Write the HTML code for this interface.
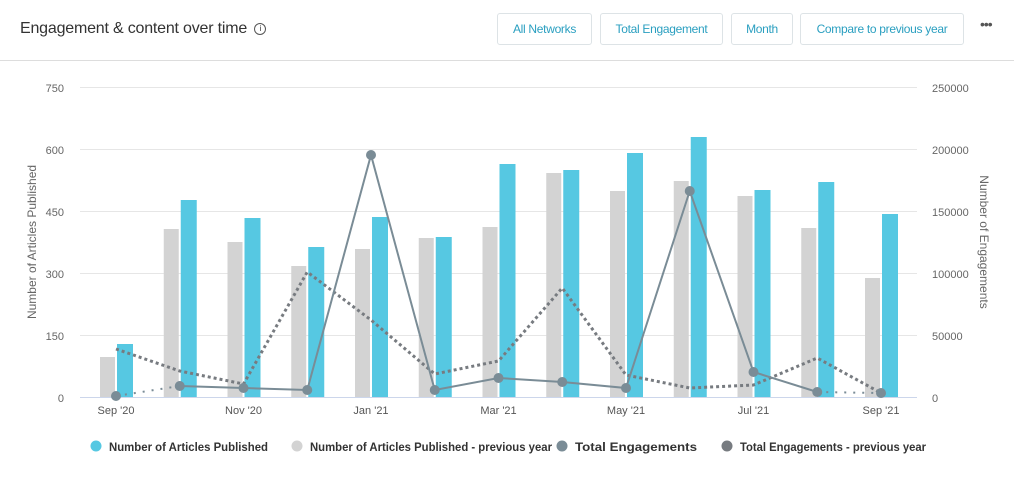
<!DOCTYPE html>
<html><head><meta charset="utf-8"><style>
body{margin:0;width:1014px;height:488px;background:#fff;font-family:"Liberation Sans",sans-serif;overflow:hidden;position:relative}
.title{position:absolute;left:20px;top:20px;font-size:16px;color:#333;letter-spacing:-0.2px}
.btn{position:absolute;top:13px;height:32px;border:1px solid #dde3e6;border-radius:3px;color:#2a9fc0;font-size:12px;line-height:31px;text-align:center;box-sizing:border-box;background:#fff;letter-spacing:-0.3px}
.sep{position:absolute;left:0;right:0;top:60px;border-top:1px solid #ddd}
</style></head><body>
<div class="title">Engagement &amp; content over time <span style="display:inline-block;width:10px;height:10px;border:1px solid #555;border-radius:50%;font-size:8px;line-height:10px;text-align:center;vertical-align:2px;margin-left:3px">i</span></div>
<div class="btn" style="left:497px;width:95px">All Networks</div>
<div class="btn" style="left:600px;width:123px">Total Engagement</div>
<div class="btn" style="left:731px;width:62px">Month</div>
<div class="btn" style="left:800px;width:164px">Compare to previous year</div>
<div style="position:absolute;left:980px;top:16px;font-size:14px;color:#555;letter-spacing:-1px">•••</div>
<div class="sep"></div>
<svg width="1014" height="488" style="position:absolute;left:0;top:0" font-family="Liberation Sans, sans-serif">
<g stroke="#e6e6e6" stroke-width="1">
<line x1="80" x2="917" y1="87.5" y2="87.5"/><line x1="80" x2="917" y1="149.5" y2="149.5"/><line x1="80" x2="917" y1="211.5" y2="211.5"/><line x1="80" x2="917" y1="273.5" y2="273.5"/><line x1="80" x2="917" y1="335.5" y2="335.5"/>
</g>
<line x1="80" x2="917" y1="397.5" y2="397.5" stroke="#ccd6eb"/>
<g font-size="11" fill="#666" text-anchor="end">
<text x="64" y="92">750</text><text x="64" y="154">600</text><text x="64" y="216">450</text><text x="64" y="278">300</text><text x="64" y="340">150</text><text x="64" y="402">0</text>
</g>
<g font-size="11" fill="#666">
<text x="932" y="92">250000</text><text x="932" y="154">200000</text><text x="932" y="216">150000</text><text x="932" y="278">100000</text><text x="932" y="340">50000</text><text x="932" y="402">0</text>
</g>
<text transform="translate(36,242) rotate(-90)" font-size="12" fill="#666" text-anchor="middle">Number of Articles Published</text>
<text transform="translate(980,242) rotate(90)" font-size="12" fill="#666" text-anchor="middle">Number of Engagements</text>
<g font-size="11" fill="#555" text-anchor="middle">
<text x="116" y="414">Sep '20</text><text x="243.5" y="414">Nov '20</text><text x="371" y="414">Jan '21</text><text x="498.5" y="414">Mar '21</text><text x="626" y="414">May '21</text><text x="753.5" y="414">Jul '21</text><text x="881" y="414">Sep '21</text>
</g>
<g fill="#d3d3d3">
<rect x="100" y="357" width="15" height="40"/><rect x="163.75" y="229" width="15" height="168"/><rect x="227.5" y="242" width="15" height="155"/><rect x="291.25" y="266" width="15" height="131"/><rect x="355" y="249" width="15" height="148"/><rect x="418.75" y="238" width="15" height="159"/><rect x="482.5" y="227" width="15" height="170"/><rect x="546.25" y="173" width="15" height="224"/><rect x="610" y="191" width="15" height="206"/><rect x="673.75" y="181" width="15" height="216"/><rect x="737.5" y="196" width="15" height="201"/><rect x="801.25" y="228" width="15" height="169"/><rect x="865" y="278" width="15" height="119"/>
</g>
<g fill="#56c8e2">
<rect x="117" y="344" width="16" height="53"/><rect x="180.75" y="200" width="16" height="197"/><rect x="244.5" y="218" width="16" height="179"/><rect x="308.25" y="247" width="16" height="150"/><rect x="372" y="217" width="16" height="180"/><rect x="435.75" y="237" width="16" height="160"/><rect x="499.5" y="164" width="16" height="233"/><rect x="563.25" y="170" width="16" height="227"/><rect x="627" y="153" width="16" height="244"/><rect x="690.75" y="137" width="16" height="260"/><rect x="754.5" y="190" width="16" height="207"/><rect x="818.25" y="182" width="16" height="215"/><rect x="882" y="214" width="16" height="183"/>
</g>
<polyline fill="none" stroke="#777b80" stroke-width="3" stroke-dasharray="3,3" points="116,349 179.75,371 243.5,384 307.25,272 371,320 434.75,374 498.5,361 562.25,288 626,375 689.75,388 753.5,385 817.25,358 881,393"/>
<polyline fill="none" stroke="#7a8c96" stroke-width="2" stroke-dasharray="2,7" points="116,396 179.75,386"/>
<polyline fill="none" stroke="#7a8c96" stroke-width="2" stroke-dasharray="2,7" points="817.25,392 881,393"/>
<polyline fill="none" stroke="#7a8c96" stroke-width="2" points="179.75,386 243.5,388 307.25,390 371,155 434.75,390 498.5,378 562.25,382 626,388 689.75,191 753.5,372 817.25,392"/>
<g fill="#7a8c96">
<circle cx="116" cy="396" r="5"/><circle cx="179.75" cy="386" r="5"/><circle cx="243.5" cy="388" r="5"/><circle cx="307.25" cy="390" r="5"/><circle cx="371" cy="155" r="5"/><circle cx="434.75" cy="390" r="5"/><circle cx="498.5" cy="378" r="5"/><circle cx="562.25" cy="382" r="5"/><circle cx="626" cy="388" r="5"/><circle cx="689.75" cy="191" r="5"/><circle cx="753.5" cy="372" r="5"/><circle cx="817.25" cy="392" r="5"/><circle cx="881" cy="393" r="5"/>
</g>
<g font-size="12" fill="#333" font-weight="bold">
<circle cx="96" cy="446" r="5.5" fill="#56c8e2"/><text x="109" y="451" textLength="159" lengthAdjust="spacingAndGlyphs">Number of Articles Published</text>
<circle cx="297" cy="446" r="5.5" fill="#d3d3d3"/><text x="310" y="451" textLength="242" lengthAdjust="spacingAndGlyphs">Number of Articles Published - previous year</text>
<circle cx="562" cy="446" r="5.5" fill="#7a8c96"/><text x="575" y="451" textLength="122" lengthAdjust="spacingAndGlyphs">Total Engagements</text>
<circle cx="727" cy="446" r="5.5" fill="#777b80"/><text x="740" y="451" textLength="186" lengthAdjust="spacingAndGlyphs">Total Engagements - previous year</text>
</g>
</svg>
</body></html>
